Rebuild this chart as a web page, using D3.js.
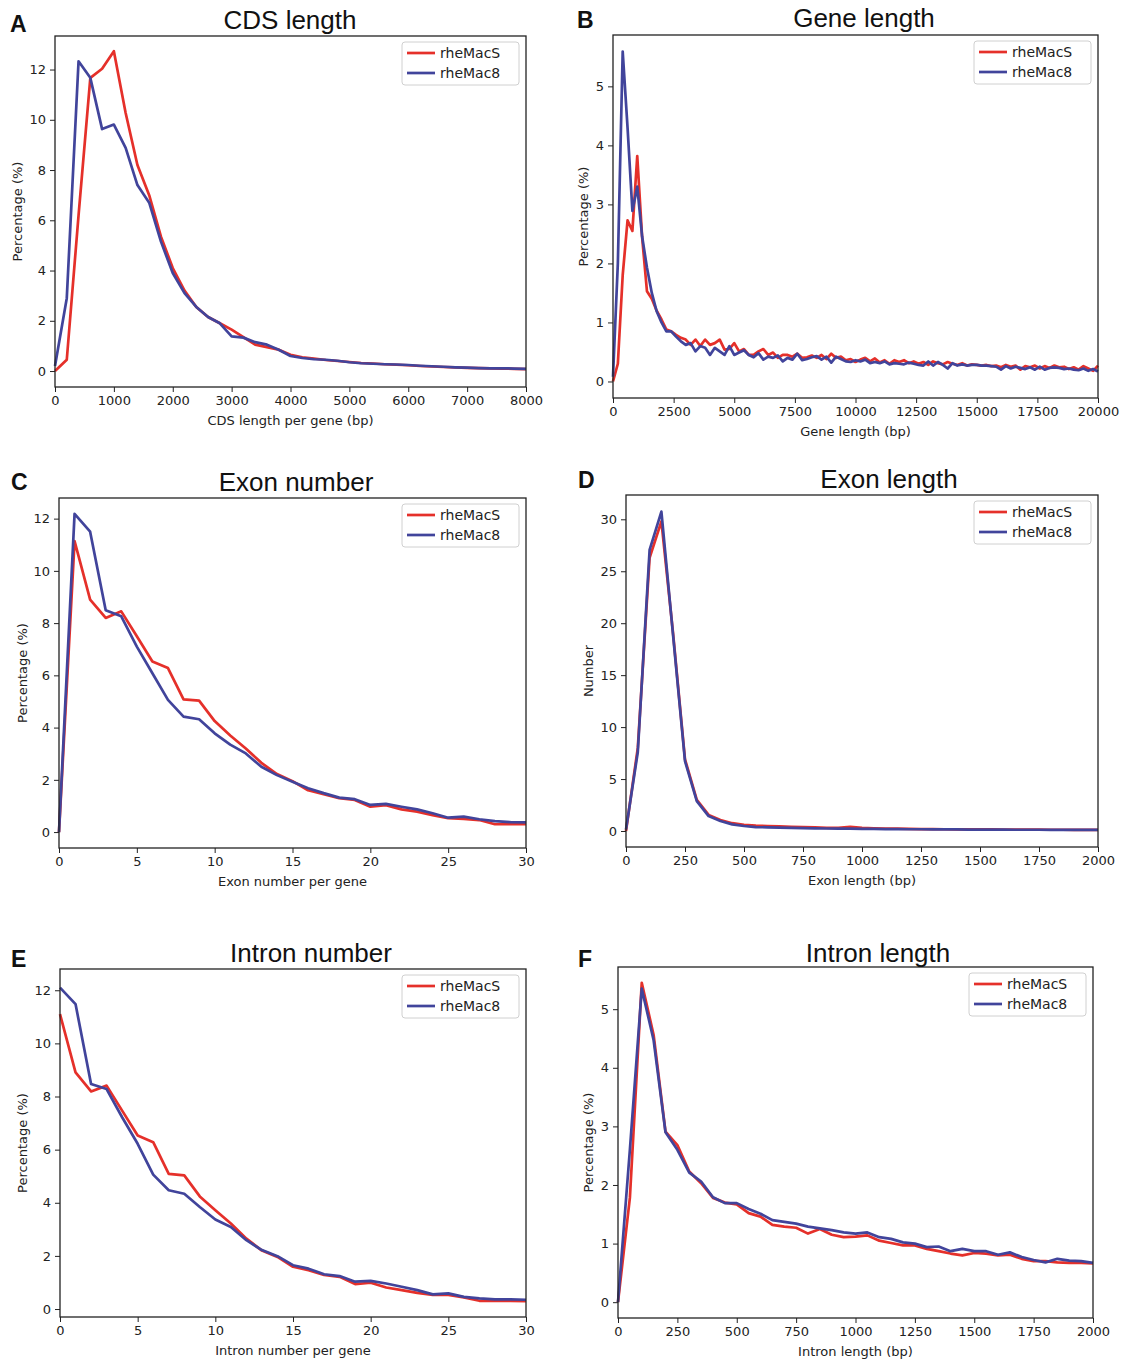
<!DOCTYPE html>
<html>
<head>
<meta charset="utf-8">
<script src="https://cdn.jsdelivr.net/npm/d3@7"></script>
<style>
  body { margin: 0; background: #ffffff; }
  svg { font-family: "DejaVu Sans", sans-serif; }
</style>
</head>
<body>
<svg id="fig" width="1126" height="1364"></svg>
<script>

var seriesNames = ["rheMacS", "rheMac8"];
var lineColors = ["#e5302a", "#41449b"];

// A: CDS length, bins of 200 bp
var cdsBins = d3.range(0, 8001, 200);
var cdsS = [0, 0.45, 6.2, 11.67, 12.03, 12.73, 10.27, 8.2, 7.0, 5.35, 4.1, 3.2, 2.55, 2.15, 1.9, 1.65, 1.35, 1.05, 0.95, 0.85, 0.65,
  0.55, 0.5, 0.44, 0.4, 0.36, 0.32, 0.3, 0.27, 0.25, 0.23, 0.2, 0.18, 0.16, 0.15, 0.13, 0.12, 0.11, 0.1, 0.09, 0.08];
var cds8 = [0.2, 2.9, 12.33, 11.67, 9.63, 9.81, 8.88, 7.4, 6.7, 5.15, 3.9, 3.1, 2.55, 2.15, 1.9, 1.38, 1.33, 1.15, 1.05, 0.85, 0.6,
  0.52, 0.47, 0.45, 0.41, 0.35, 0.31, 0.29, 0.27, 0.26, 0.24, 0.21, 0.19, 0.17, 0.15, 0.14, 0.12, 0.11, 0.11, 0.1, 0.09];

// B: gene length, bins of 200 bp
var geneBins = d3.range(0, 20001, 200);
var geneS = [0, 0.3, 1.8, 2.73, 2.55, 3.82, 2.45, 1.53, 1.4, 1.2, 1.05, 0.88, 0.85, 0.79, 0.74, 0.71, 0.62, 0.71, 0.6, 0.71, 0.62,
  0.65, 0.71, 0.54, 0.55, 0.65, 0.51, 0.55, 0.45, 0.45, 0.51, 0.55, 0.45, 0.49, 0.4, 0.45, 0.45, 0.42, 0.47, 0.4, 0.41,
  0.44, 0.40, 0.45, 0.38, 0.47, 0.40, 0.42, 0.36, 0.38, 0.33, 0.37, 0.40, 0.34, 0.39, 0.32, 0.36, 0.30, 0.36, 0.33, 0.36,
  0.31, 0.34, 0.30, 0.33, 0.28, 0.34, 0.31, 0.29, 0.33, 0.30, 0.28, 0.31, 0.27, 0.29, 0.28, 0.27, 0.28, 0.26, 0.27, 0.24,
  0.28, 0.25, 0.27, 0.20, 0.26, 0.24, 0.27, 0.22, 0.26, 0.23, 0.27, 0.24, 0.25, 0.21, 0.24, 0.20, 0.26, 0.22, 0.18, 0.27];
var gene8 = [0.08, 2.0, 5.59, 4.3, 2.89, 3.3, 2.46, 1.93, 1.5, 1.19, 1.0, 0.85, 0.85, 0.76, 0.68, 0.62, 0.65, 0.51, 0.6, 0.57, 0.45,
  0.57, 0.51, 0.45, 0.6, 0.45, 0.49, 0.53, 0.45, 0.41, 0.48, 0.37, 0.42, 0.4, 0.44, 0.34, 0.4, 0.37, 0.47, 0.36, 0.38,
  0.41, 0.43, 0.37, 0.42, 0.32, 0.42, 0.38, 0.34, 0.33, 0.36, 0.34, 0.37, 0.31, 0.33, 0.31, 0.34, 0.29, 0.31, 0.30, 0.29,
  0.32, 0.30, 0.28, 0.27, 0.34, 0.27, 0.33, 0.28, 0.22, 0.31, 0.27, 0.29, 0.27, 0.28, 0.28, 0.27, 0.27, 0.26, 0.25, 0.20,
  0.26, 0.22, 0.25, 0.23, 0.21, 0.24, 0.20, 0.25, 0.20, 0.23, 0.24, 0.23, 0.21, 0.22, 0.20, 0.19, 0.22, 0.18, 0.21, 0.17];

// C: exon number per gene
var exonNum = d3.range(0, 31);
var exonNumS = [0, 11.14, 8.9, 8.2, 8.45, 7.5, 6.53, 6.28, 5.08, 5.03, 4.25, 3.7, 3.2, 2.65, 2.22, 1.95, 1.6, 1.45, 1.3, 1.23, 0.97,
  1.03, 0.87, 0.78, 0.65, 0.53, 0.5, 0.46, 0.3, 0.3, 0.3];
var exonNum8 = [0, 12.18, 11.5, 8.49, 8.26, 7.1, 6.08, 5.06, 4.42, 4.32, 3.78, 3.35, 3.01, 2.5, 2.18, 1.93, 1.68, 1.49, 1.32, 1.26, 1.04,
  1.08, 0.97, 0.87, 0.72, 0.55, 0.59, 0.49, 0.42, 0.38, 0.37];

// D: exon length, bins of 50 bp
var exonLenBins = d3.range(0, 2001, 50);
var exonLenS = [0, 8.0, 26.3, 29.8, 18.9, 6.9, 3.0, 1.55, 1.05, 0.75, 0.6, 0.52, 0.48,
  0.44, 0.4, 0.37, 0.34, 0.31, 0.3, 0.4, 0.3, 0.26, 0.24, 0.22, 0.2, 0.19, 0.18, 0.17, 0.16, 0.16, 0.15, 0.15, 0.14, 0.14,
  0.13, 0.13, 0.12, 0.12, 0.11, 0.11, 0.1];
var exonLen8 = [0.15, 7.6, 27.05, 30.74, 18.7, 6.72, 2.88, 1.44, 0.96, 0.64, 0.48, 0.38, 0.35,
  0.32, 0.3, 0.28, 0.26, 0.24, 0.23, 0.22, 0.21, 0.2, 0.19, 0.18, 0.17, 0.17, 0.16, 0.15, 0.15, 0.14, 0.14, 0.13, 0.13,
  0.12, 0.12, 0.12, 0.11, 0.11, 0.1, 0.1, 0.1];

// E: intron number per gene
var intronNum = d3.range(0, 31);
var intronNumS = [11.1, 8.91, 8.19, 8.41, 7.47, 6.53, 6.28, 5.09, 5.03, 4.24, 3.72, 3.22, 2.65, 2.2, 1.96, 1.59, 1.46, 1.28, 1.21, 0.94, 0.99,
  0.81, 0.71, 0.61, 0.53, 0.53, 0.44, 0.31, 0.31, 0.31, 0.3];
var intronNum8 = [12.1, 11.48, 8.47, 8.28, 7.22, 6.22, 5.06, 4.47, 4.34, 3.84, 3.37, 3.09, 2.59, 2.22, 1.99, 1.65, 1.52, 1.31, 1.24, 1.03, 1.06,
  0.96, 0.84, 0.71, 0.55, 0.59, 0.46, 0.4, 0.36, 0.36, 0.35];

// F: intron length, bins of 50 bp
var intronLenBins = d3.range(0, 2001, 50);
var intronLenS = [0, 1.78, 5.45, 4.56, 2.91, 2.68, 2.23, 2.03, 1.78, 1.7, 1.67, 1.52, 1.46, 1.32, 1.29, 1.27, 1.17, 1.25, 1.15, 1.11, 1.12,
  1.14, 1.05, 1.01, 0.97, 0.97, 0.91, 0.87, 0.83, 0.8, 0.84, 0.83, 0.8, 0.81, 0.74, 0.7, 0.7, 0.68, 0.67, 0.67, 0.66];
var intronLen8 = [0, 2.6, 5.35, 4.47, 2.9, 2.6, 2.21, 2.06, 1.79, 1.69, 1.69, 1.59, 1.51, 1.4, 1.37, 1.34, 1.29, 1.26, 1.23, 1.19, 1.17,
  1.19, 1.11, 1.08, 1.02, 1.0, 0.94, 0.95, 0.87, 0.91, 0.87, 0.87, 0.81, 0.85, 0.77, 0.72, 0.68, 0.74, 0.71, 0.7, 0.67];

// tick values
var cdsTicks = d3.range(0, 8001, 1000),
  geneTicks = d3.range(0, 20001, 2500),
  countTicks = [0, 5, 10, 15, 20, 25, 30],
  lenTicks = d3.range(0, 2001, 250);
var pct12Ticks = [0, 2, 4, 6, 8, 10, 12],
  pct5Ticks = [0, 1, 2, 3, 4, 5],
  numTicks = [0, 5, 10, 15, 20, 25, 30];


// panel layout (box = left, right, top, bottom in px)
var panels = [
  {letter: "A", lpos: [10, 32], title: "CDS length", tpos: [290, 29], box: [55, 526, 36, 387],
   x: cdsBins, ys: [cdsS, cds8], xdom: [0, 8000], ydom: [-0.635, 13.335], xt: cdsTicks, yt: pct12Ticks,
   xlab: "CDS length per gene (bp)", ylab: "Percentage (%)", ylx: -38},
  {letter: "B", lpos: [577, 28], title: "Gene length", tpos: [864, 27], box: [613, 1098, 35, 398],
   x: geneBins, ys: [geneS, gene8], xdom: [0, 20000], ydom: [-0.28, 5.87], xt: geneTicks, yt: pct5Ticks,
   xlab: "Gene length (bp)", ylab: "Percentage (%)", ylx: -30},
  {letter: "C", lpos: [11, 490], title: "Exon number", tpos: [296, 491], box: [59, 526, 498, 848],
   x: exonNum, ys: [exonNumS, exonNum8], xdom: [0, 30], ydom: [-0.61, 12.79], xt: countTicks, yt: pct12Ticks,
   xlab: "Exon number per gene", ylab: "Percentage (%)", ylx: -37},
  {letter: "D", lpos: [578, 488], title: "Exon length", tpos: [889, 488], box: [626, 1098, 495, 847],
   x: exonLenBins, ys: [exonLenS, exonLen8], xdom: [0, 2000], ydom: [-1.54, 32.34], xt: lenTicks, yt: numTicks,
   xlab: "Exon length (bp)", ylab: "Number", ylx: -38},
  {letter: "E", lpos: [11, 967], title: "Intron number", tpos: [311, 962], box: [60, 526, 969, 1317],
   x: intronNum, ys: [intronNumS, intronNum8], xdom: [0, 30], ydom: [-0.3, 12.8], xt: countTicks, yt: pct12Ticks,
   xlab: "Intron number per gene", ylab: "Percentage (%)", ylx: -38},
  {letter: "F", lpos: [578, 967], title: "Intron length", tpos: [878, 962], box: [618, 1093, 967, 1318],
   x: intronLenBins, ys: [intronLenS, intronLen8], xdom: [0, 2000], ydom: [-0.27, 5.72], xt: lenTicks, yt: pct5Ticks,
   xlab: "Intron length (bp)", ylab: "Percentage (%)", ylx: -30}
];

var svg = d3.select("#fig");

var drawPanel = function (p) {
  var left = p.box[0], right = p.box[1], top = p.box[2], bottom = p.box[3];
  var g = svg.append("g");

  var x = d3.scaleLinear().domain(p.xdom).range([left, right]);
  var y = d3.scaleLinear().domain(p.ydom).range([bottom, top]);

  // data lines
  for (var s = 0; s < p.ys.length; s++) {
    var vals = p.ys[s];
    var pts = p.x.map(function (xv, i) { return [xv, vals[i]]; });
    g.append("path")
      .datum(pts)
      .attr("fill", "none")
      .attr("stroke", lineColors[s])
      .attr("stroke-width", 2.7)
      .attr("stroke-linejoin", "round")
      .attr("d", d3.line()
        .x(function (d) { return x(d[0]); })
        .y(function (d) { return y(d[1]); }));
  }

  // axes
  var xa = g.append("g")
    .attr("transform", "translate(0," + bottom + ")")
    .call(d3.axisBottom(x).tickValues(p.xt).tickSize(5).tickPadding(4).tickFormat(d3.format("d")));
  var ya = g.append("g")
    .attr("transform", "translate(" + left + ",0)")
    .call(d3.axisLeft(y).tickValues(p.yt).tickSize(5).tickPadding(4).tickFormat(d3.format("d")));
  [xa, ya].forEach(function (a) {
    a.select(".domain").remove();
    a.selectAll("text").attr("font-size", 13).attr("fill", "#222").attr("font-family", "DejaVu Sans, sans-serif");
    a.selectAll("line").attr("stroke", "#222").attr("stroke-width", 1);
  });

  // frame
  g.append("rect")
    .attr("x", left).attr("y", top)
    .attr("width", right - left).attr("height", bottom - top)
    .attr("fill", "none")
    .attr("stroke", "#222")
    .attr("stroke-width", 1.3);

  // labels
  g.append("text")
    .attr("text-anchor", "middle")
    .attr("x", (left + right) / 2)
    .attr("y", bottom + 38)
    .attr("font-size", 13)
    .attr("fill", "#222")
    .text(p.xlab);
  g.append("text")
    .attr("text-anchor", "middle")
    .attr("transform", "translate(" + (left + p.ylx) + "," + ((top + bottom) / 2) + ")rotate(-90)")
    .attr("dy", "0.35em")
    .attr("font-size", 13)
    .attr("fill", "#222")
    .text(p.ylab);
  g.append("text")
    .attr("text-anchor", "middle")
    .attr("x", p.tpos[0])
    .attr("y", p.tpos[1])
    .attr("font-family", "Liberation Sans, Arial, sans-serif")
    .attr("font-size", 26)
    .attr("fill", "#111")
    .text(p.title);
  g.append("text")
    .attr("x", p.lpos[0])
    .attr("y", p.lpos[1])
    .attr("font-family", "Liberation Sans, Arial, sans-serif")
    .attr("font-size", 23)
    .attr("font-weight", "bold")
    .attr("fill", "#111")
    .text(p.letter);

  // legend, upper right
  var lg = g.append("g")
    .attr("transform", "translate(" + (right - 7 - 117) + "," + (top + 6) + ")");
  lg.append("rect")
    .attr("width", 117).attr("height", 43)
    .attr("rx", 3)
    .attr("fill", "#fff")
    .attr("stroke", "#d0d0d0")
    .attr("stroke-width", 1);
  seriesNames.forEach(function (name, i) {
    lg.append("line")
      .attr("x1", 5).attr("x2", 33)
      .attr("y1", 11 + i * 20).attr("y2", 11 + i * 20)
      .attr("stroke", lineColors[i])
      .attr("stroke-width", 2.7);
    lg.append("text")
      .attr("x", 38)
      .attr("y", 16 + i * 20)
      .attr("font-size", 14)
      .attr("fill", "#222")
      .text(name);
  });
};

panels.forEach(drawPanel);

</script>
</body>
</html>
